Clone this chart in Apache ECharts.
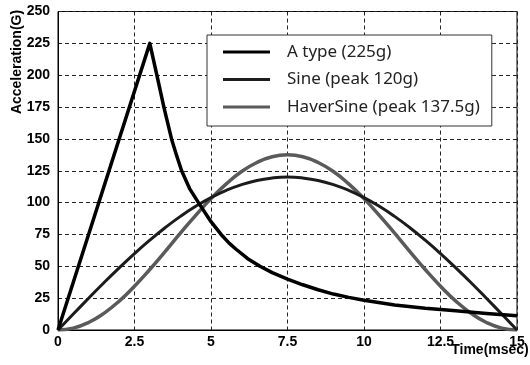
<!DOCTYPE html>
<html>
<head>
<meta charset="utf-8">
<script src="https://cdn.jsdelivr.net/npm/echarts@6/dist/echarts.min.js"></script>
<style>
  html, body { margin: 0; padding: 0; background: #fff; }
  #chart { width: 530px; height: 365px; }
</style>
</head>
<body>
<div id="chart"></div>
<script>
// values
const timeA = [0, 3, 3.25, 3.46, 3.6, 3.71, 3.85, 4.04, 4.3, 4.59, 5, 5.33, 5.6, 5.84, 6.2, 6.6, 7, 7.5,
  8, 8.5, 9, 9.5, 10, 11, 12, 12.5, 13, 14, 15];
const aType = [0, 225, 198, 175, 161, 150, 139, 125, 111, 100, 85, 75, 68, 63, 56, 50, 45, 40,
  35.5, 31.6, 28.2, 25.6, 23.3, 19.6, 17, 16, 15.1, 13, 11.2];

const timeS = [0, 0.5, 1, 1.5, 2, 2.5, 3, 3.5, 4, 4.5, 5, 5.5, 6, 6.5, 7, 7.5,
  8, 8.5, 9, 9.5, 10, 10.5, 11, 11.5, 12, 12.5, 13, 13.5, 14, 14.5, 15];
const sine = [0, 12.5, 24.9, 37.1, 48.8, 60, 70.5, 80.3, 89.2, 97.1, 103.9, 109.6, 114.1, 117.4, 119.3, 120,
  119.3, 117.4, 114.1, 109.6, 103.9, 97.1, 89.2, 80.3, 70.5, 60, 48.8, 37.1, 24.9, 12.5, 0];
const haverSine = [0, 1.5, 5.9, 13.1, 22.7, 34.4, 47.5, 61.6, 76, 90, 103.1, 114.7, 124.4, 131.5, 136, 137.5,
  136, 131.5, 124.4, 114.7, 103.1, 90, 76, 61.6, 47.5, 34.4, 22.7, 13.1, 5.9, 1.5, 0];

const seriesNames = ['A type (225g)', 'Sine (peak 120g)', 'HaverSine (peak 137.5g)'];
const seriesColors = ['#000000', '#1c1c1c', '#5a5a5a'];

const labelFont = {
  color: '#000',
  fontFamily: 'Liberation Sans',
  fontWeight: 'bold',
  fontSize: 14
};

const pairs = (xs, ys) => xs.map((x, i) => [x, ys[i]]);

const myChart = echarts.init(document.getElementById('chart'));
myChart.setOption({
  animation: false,
  backgroundColor: '#fff',
  grid: {
    left: 58, right: 13, top: 11.5, bottom: 35,
    show: true, borderColor: '#000', borderWidth: 1
  },
  xAxis: {
    type: 'value',
    min: 0, max: 15, interval: 2.5,
    axisLine: { show: true, lineStyle: { color: '#000', width: 1 } },
    axisTick: { show: false },
    axisLabel: { ...labelFont, margin: 5 },
    splitLine: { show: true, lineStyle: { color: '#222', type: [4, 3], width: 1 } }
  },
  yAxis: {
    type: 'value',
    min: 0, max: 250, interval: 25,
    axisLine: { show: true, lineStyle: { color: '#000', width: 1 } },
    axisTick: { show: false },
    axisLabel: { ...labelFont, margin: 8 },
    splitLine: { show: true, lineStyle: { color: '#222', type: [4, 3], width: 1 } }
  },
  legend: {
    orient: 'vertical',
    left: 207, top: 35,
    backgroundColor: '#fff',
    borderColor: '#333', borderWidth: 1, borderRadius: 0,
    padding: [7, 12, 9, 16],
    itemGap: 7.5,
    itemWidth: 47, itemHeight: 3,
    icon: 'rect',
    textStyle: {
      fontFamily: 'Noto Sans', fontSize: 17, color: '#222',
      lineHeight: 20, padding: [0, 0, 0, 12]
    },
    data: seriesNames
  },
  graphic: [
    {
      type: 'text', x: 17, y: 62, rotation: Math.PI / 2,
      style: {
        text: 'Acceleration(G)', fill: '#000',
        font: 'bold 14px "Liberation Sans"',
        align: 'center', verticalAlign: 'middle'
      }
    },
    {
      type: 'text', x: 490, y: 350,
      style: {
        text: 'Time(msec)', fill: '#000',
        font: 'bold 14px "Liberation Sans"',
        align: 'center', verticalAlign: 'middle'
      }
    }
  ],
  series: [
    {
      name: seriesNames[0], type: 'line', showSymbol: false,
      data: pairs(timeA, aType),
      itemStyle: { color: seriesColors[0] },
      lineStyle: { color: seriesColors[0], width: 3.5, join: 'round' },
      z: 4
    },
    {
      name: seriesNames[1], type: 'line', showSymbol: false, smooth: true,
      data: pairs(timeS, sine),
      itemStyle: { color: seriesColors[1] },
      lineStyle: { color: seriesColors[1], width: 3 },
      z: 3
    },
    {
      name: seriesNames[2], type: 'line', showSymbol: false, smooth: true,
      data: pairs(timeS, haverSine),
      itemStyle: { color: seriesColors[2] },
      lineStyle: { color: seriesColors[2], width: 3.5 },
      z: 2
    }
  ]
});
</script>
</body>
</html>
